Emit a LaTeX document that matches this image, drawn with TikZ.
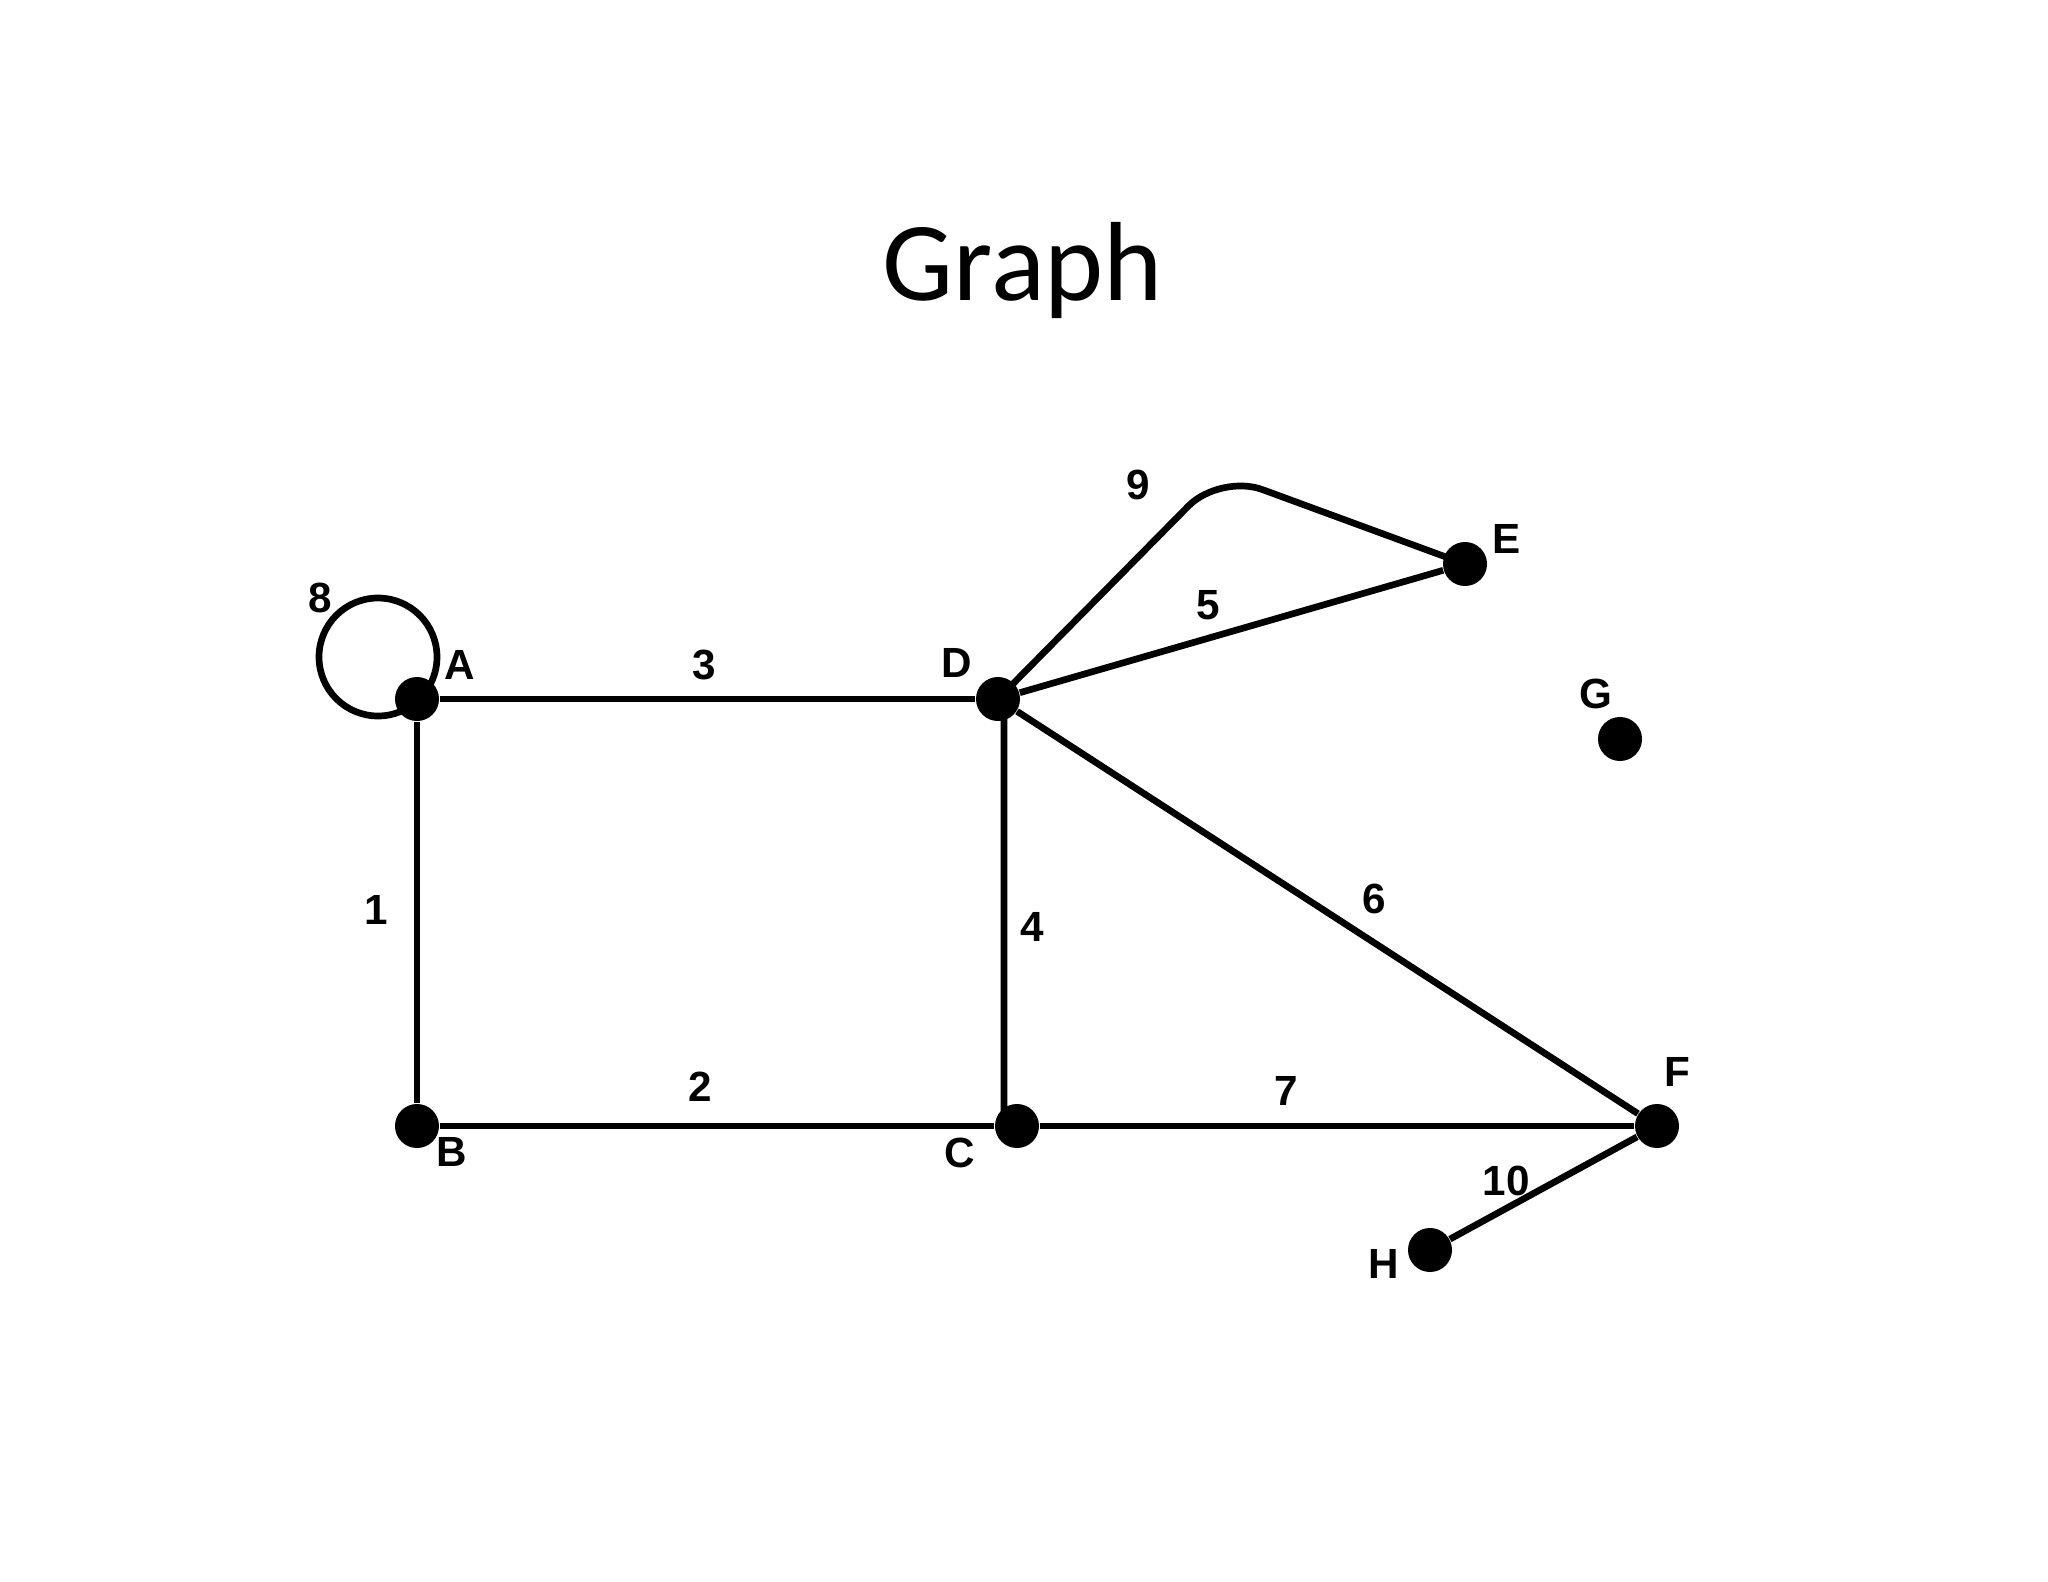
\documentclass[tikz,border=0pt]{standalone}
\usepackage{fontspec}
\setmainfont{Carlito}
\newfontfamily\lblfont{Liberation Sans}
\usepackage{tikz}

\tikzset{
  vertex/.style={circle, fill=black, inner sep=0pt, minimum size=0.44cm},
  lbl/.style={font=\lblfont\bfseries\fontsize{12}{12}\selectfont, inner sep=0pt},
  edge/.style={line width=1.9pt}
}

\begin{document}
\begin{tikzpicture}[x=0.01cm, y=-0.01cm]
  \useasboundingbox (0,0) rectangle (2048,1582);
  \node (title) at (1023,270) {\fontsize{32}{32}\selectfont Graph};
  % vertices
  \node[vertex] (A) at (417,699) {};
  \node[vertex] (B) at (417,1126) {};
  \node[vertex] (C) at (1017,1126) {};
  \node[vertex] (D) at (998,699) {};
  \node[vertex] (E) at (1465,564) {};
  \node[vertex] (F) at (1657,1126) {};
  \node[vertex] (G) at (1620,739) {};
  \node[vertex] (H) at (1430,1250) {};
  \coordinate (top9) at (1220,474);
  % edges
  \draw[edge] (A) -- (B);
  \draw[edge] (B) -- (C);
  \draw[edge] (A) -- (D);
  \draw[edge] ([xshift=0.06cm]D.center) -- ([xshift=-0.13cm]C.center);
  \draw[edge] (D) -- (E);
  \draw[edge] (D) -- (F);
  \draw[edge] (C) -- (F);
  \draw[edge] (H) -- (F);
  \draw[edge, rounded corners=0.45cm] (D.center) -- (top9) -- (E.center);
  \draw[edge] ([shift={(-39,-42)}]A.center) circle[radius=59];
  % vertex labels
  \node[lbl] (lA) at (460,665) {A};
  \node[lbl] (lB) at (452,1152) {B};
  \node[lbl] (lC) at (960,1153) {C};
  \node[lbl] (lD) at (957,663) {D};
  \node[lbl] (lE) at (1507,539) {E};
  \node[lbl] (lF) at (1677,1072) {F};
  \node[lbl] (lG) at (1596,694) {G};
  \node[lbl] (lH) at (1384,1264) {H};
  % edge labels
  \node[lbl] (e1) at (376,910) {1};
  \node[lbl] (e2) at (700,1087) {2};
  \node[lbl] (e3) at (704,665) {3};
  \node[lbl] (e4) at (1032,927) {4};
  \node[lbl] (e5) at (1208,605) {5};
  \node[lbl] (e6) at (1374,899) {6};
  \node[lbl] (e7) at (1286,1091) {7};
  \node[lbl] (e8) at (320,598) {8};
  \node[lbl] (e9) at (1138,485) {9};
  \node[lbl] (e10) at (1506,1181) {10};
\end{tikzpicture}
\end{document}
